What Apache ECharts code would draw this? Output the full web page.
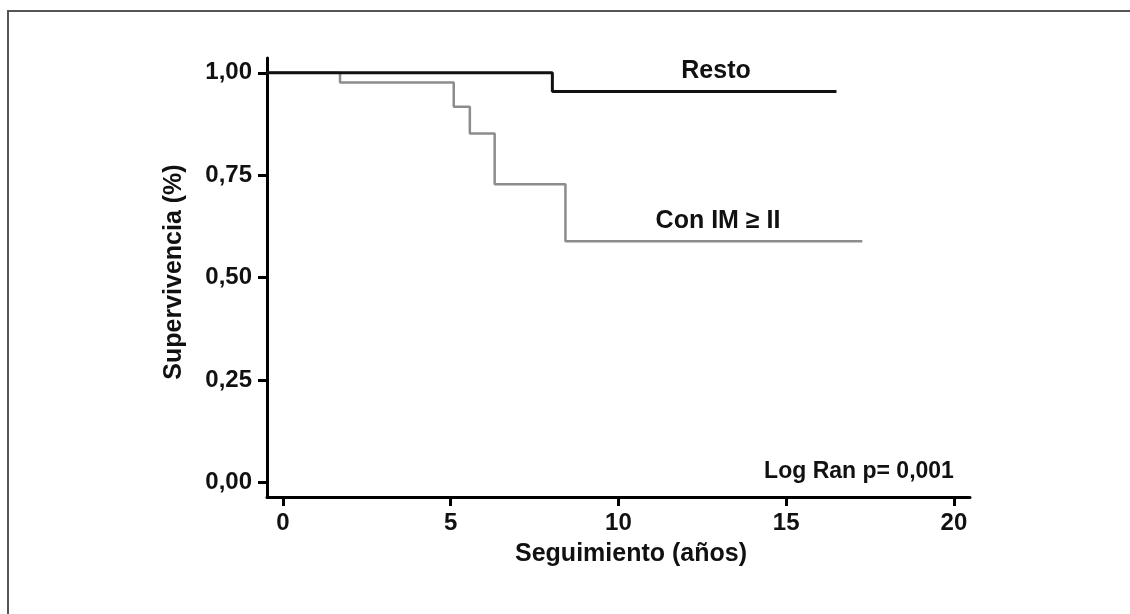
<!DOCTYPE html>
<html>
<head>
<meta charset="utf-8">
<script src="https://cdn.jsdelivr.net/npm/echarts@6/dist/echarts.min.js"></script>
<style>
html,body{margin:0;padding:0;background:#fff;}
#chart{width:1130px;height:614px;}
</style>
</head>
<body>
<div id="chart"></div>
<script>
// Data (Kaplan-Meier step curves)
var xTicks = [0, 5, 10, 15, 20];
var yTicks = [0, 0.25, 0.5, 0.75, 1];
var restoTimes = [-0.48, 8.03, 16.5];
var restoSurv = [1.0, 0.954, 0.954];
var imTimes = [-0.48, 1.7, 5.09, 5.57, 6.31, 8.42, 17.27];
var imSurv = [1.0, 0.976, 0.917, 0.852, 0.728, 0.589, 0.589];
var seriesNames = ['Resto', 'Con IM \u2265 II'];
var xTitle = 'Seguimiento (a\u00f1os)';
var yTitle = 'Supervivencia (%)';
var statText = 'Log Ran p= 0,001';

function pairs(xs, ys) { return xs.map(function (x, i) { return [x, ys[i]]; }); }

var FONT = '"Liberation Sans", Arial, sans-serif';
var chart = echarts.init(document.getElementById('chart'), null, {renderer: 'canvas'});
var option = {
  backgroundColor: '#ffffff',
  animation: false,
  grid: {left: 267, right: 160, top: 58, bottom: 117, containLabel: false},
  xAxis: {
    type: 'value', min: -0.477, max: 20.48,
    axisLine: {show: true, onZero: false, lineStyle: {color: '#000', width: 3}},
    axisTick: {show: true, customValues: xTicks, length: 9, lineStyle: {color: '#000', width: 3}},
    axisLabel: {show: true, customValues: xTicks, margin: 14, color: '#111',
      fontFamily: FONT, fontWeight: 'bold', fontSize: 24},
    splitLine: {show: false}
  },
  yAxis: {
    type: 'value', min: -0.035, max: 1.036,
    axisLine: {show: true, onZero: false, lineStyle: {color: '#000', width: 3}},
    axisTick: {show: true, customValues: yTicks, length: 9, lineStyle: {color: '#000', width: 3}},
    axisLabel: {show: true, customValues: yTicks, margin: 15, color: '#111',
      fontFamily: FONT, fontWeight: 'bold', fontSize: 24,
      formatter: function (v) { return v.toFixed(2).replace('.', ','); }},
    splitLine: {show: false}
  },
  series: [
    {
      name: seriesNames[1], type: 'line', step: 'end', showSymbol: false,
      data: pairs(imTimes, imSurv),
      lineStyle: {color: '#8c8c8c', width: 2.5}, z: 2
    },
    {
      name: seriesNames[0], type: 'line', step: 'end', showSymbol: false,
      data: pairs(restoTimes, restoSurv),
      lineStyle: {color: '#111111', width: 3}, z: 3
    }
  ],
  graphic: [
    {type: 'rect', shape: {x: 8, y: 11, width: 1300, height: 800},
      style: {fill: 'none', stroke: '#555555', lineWidth: 2}, silent: true},
    {type: 'text', x: 716, y: 71, style: {text: seriesNames[0], font: 'bold 25px ' + FONT,
      fill: '#111', textAlign: 'center', textVerticalAlign: 'middle'}},
    {type: 'text', x: 718, y: 221, style: {text: seriesNames[1], font: 'bold 25px ' + FONT,
      fill: '#111', textAlign: 'center', textVerticalAlign: 'middle'}},
    {type: 'text', x: 859, y: 472, style: {text: statText, font: 'bold 23px ' + FONT,
      fill: '#111', textAlign: 'center', textVerticalAlign: 'middle'}},
    {type: 'text', x: 631, y: 554, style: {text: xTitle, font: 'bold 25px ' + FONT,
      fill: '#111', textAlign: 'center', textVerticalAlign: 'middle'}},
    {type: 'text', x: 174, y: 272, rotation: Math.PI / 2, style: {text: yTitle, font: 'bold 25px ' + FONT,
      fill: '#111', textAlign: 'center', textVerticalAlign: 'middle'}}
  ]
};
chart.setOption(option);
</script>
</body>
</html>
